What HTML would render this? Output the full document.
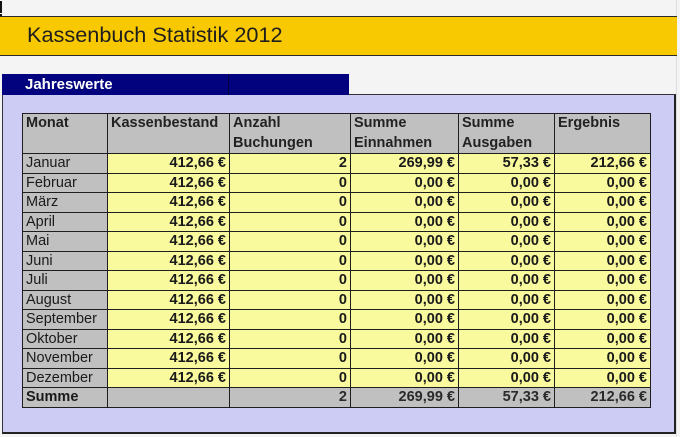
<!DOCTYPE html>
<html><head><meta charset="utf-8"><style>
*{margin:0;padding:0;box-sizing:border-box}
body{width:680px;height:437px;background:#f4f4f4;position:relative;overflow:hidden;font-family:"Liberation Sans",Arial,sans-serif;color:#1a1a1a}
.abs{position:absolute}
#band{left:0;top:16px;width:677px;height:40px;background:#f8c800;border-top:1px solid #2a2a2a;border-bottom:1px solid #2a2a2a}
#title{left:27px;top:22px;font-size:21.7px;line-height:26px;color:#1e1e1e}
#blue{left:2px;top:74px;width:347px;height:21px;background:#02027e}
#blue .sep{position:absolute;left:226px;top:0;width:1px;height:21px;background:#000040}
#blue span{position:absolute;left:23px;top:2px;font-size:15px;font-weight:bold;color:#fff;line-height:17px}
#panel{left:2px;top:94px;width:674px;height:340px;background:#ccccf5;border:1px solid #333;border-right:2px solid #222;border-bottom:2px solid #222}
#panelcover{left:3px;top:94px;width:346px;height:1px;background:#02027e}
#grid{left:22px;top:113px;width:629px;display:grid;grid-template-columns:84px 121px 120px 107px 95px 95px;grid-template-rows:39px repeat(13,18.54px);gap:1px;padding:1px;background:#1e1e1e}
#grid div{font-size:14.5px;line-height:18.5px;padding:0 3px 0 3px;white-space:nowrap;overflow:hidden}
.h{background:#c0c0c0;font-weight:bold;line-height:19.5px!important;color:#222}
.m{background:#c0c0c0}
.y{background:#f9f99e;text-align:right;font-weight:bold}
.s{background:#c0c0c0;text-align:right;font-weight:bold;color:#2a2a2a}
.sm{background:#c0c0c0;font-weight:bold}
#mark{left:0;top:1px;width:2px;height:12px;background:#111}
#mark2{left:0;top:14px;width:2px;height:2px;background:#111}
#vline{left:676px;top:0;width:1px;height:437px;background:#dcdcdc}
</style></head><body>
<div class="abs" id="vline"></div>
<div class="abs" id="mark"></div><div class="abs" id="mark2"></div>
<div class="abs" id="band"></div>
<div class="abs" id="title">Kassenbuch Statistik 2012</div>
<div class="abs" id="panel"></div>
<div class="abs" id="panelcover"></div>
<div class="abs" id="blue"><div class="sep"></div><span>Jahreswerte</span></div>
<div class="abs" id="grid">
<div class="h">Monat</div><div class="h">Kassenbestand</div><div class="h">Anzahl<br>Buchungen</div><div class="h">Summe<br>Einnahmen</div><div class="h">Summe<br>Ausgaben</div><div class="h">Ergebnis</div>
<div class="m">Januar</div><div class="y">412,66 €</div><div class="y">2</div><div class="y">269,99 €</div><div class="y">57,33 €</div><div class="y">212,66 €</div>
<div class="m">Februar</div><div class="y">412,66 €</div><div class="y">0</div><div class="y">0,00 €</div><div class="y">0,00 €</div><div class="y">0,00 €</div>
<div class="m">März</div><div class="y">412,66 €</div><div class="y">0</div><div class="y">0,00 €</div><div class="y">0,00 €</div><div class="y">0,00 €</div>
<div class="m">April</div><div class="y">412,66 €</div><div class="y">0</div><div class="y">0,00 €</div><div class="y">0,00 €</div><div class="y">0,00 €</div>
<div class="m">Mai</div><div class="y">412,66 €</div><div class="y">0</div><div class="y">0,00 €</div><div class="y">0,00 €</div><div class="y">0,00 €</div>
<div class="m">Juni</div><div class="y">412,66 €</div><div class="y">0</div><div class="y">0,00 €</div><div class="y">0,00 €</div><div class="y">0,00 €</div>
<div class="m">Juli</div><div class="y">412,66 €</div><div class="y">0</div><div class="y">0,00 €</div><div class="y">0,00 €</div><div class="y">0,00 €</div>
<div class="m">August</div><div class="y">412,66 €</div><div class="y">0</div><div class="y">0,00 €</div><div class="y">0,00 €</div><div class="y">0,00 €</div>
<div class="m">September</div><div class="y">412,66 €</div><div class="y">0</div><div class="y">0,00 €</div><div class="y">0,00 €</div><div class="y">0,00 €</div>
<div class="m">Oktober</div><div class="y">412,66 €</div><div class="y">0</div><div class="y">0,00 €</div><div class="y">0,00 €</div><div class="y">0,00 €</div>
<div class="m">November</div><div class="y">412,66 €</div><div class="y">0</div><div class="y">0,00 €</div><div class="y">0,00 €</div><div class="y">0,00 €</div>
<div class="m">Dezember</div><div class="y">412,66 €</div><div class="y">0</div><div class="y">0,00 €</div><div class="y">0,00 €</div><div class="y">0,00 €</div>
<div class="sm">Summe</div><div class="s"></div><div class="s">2</div><div class="s">269,99 €</div><div class="s">57,33 €</div><div class="s">212,66 €</div>
</div>
</body></html>
